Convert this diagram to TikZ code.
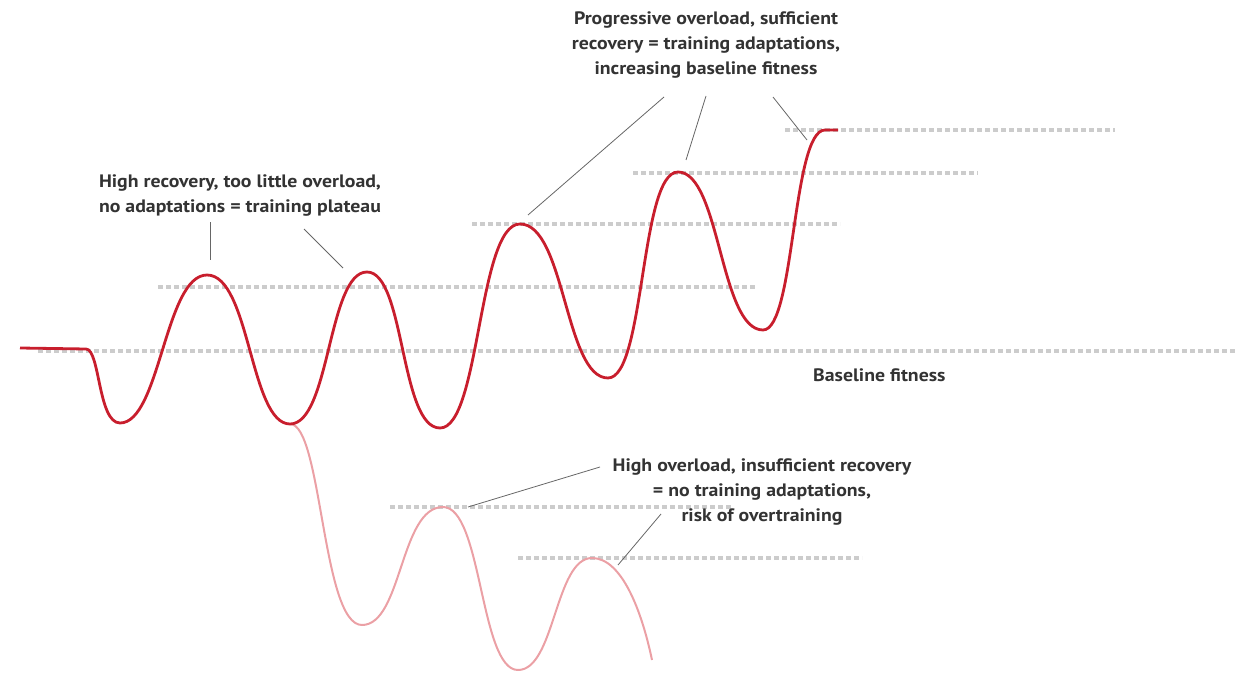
\documentclass[tikz,border=0pt]{standalone}
\usepackage{fontspec}
\setmainfont{PT Sans}[FakeStretch=1.1]
\begin{document}
\begin{tikzpicture}[x=1pt,y=-1pt,
  lvl/.style={draw=gray!40,line width=3.5pt,dash pattern=on 5pt off 3pt},
  maincurve/.style={draw={rgb,255:red,200;green,30;blue,45},line width=2.8pt,line join=round},
  pinkcurve/.style={draw={rgb,255:red,235;green,160;blue,165},line width=2pt},
  leader/.style={draw=gray!80!black,line width=0.8pt},
  lbl/.style={font=\bfseries\fontsize{18}{25}\selectfont,text=black!80,align=center,inner sep=0pt}]
\useasboundingbox (0,0) rectangle (1235,674);
% level lines
\coordinate (b0) at (38,351); \coordinate (b1) at (1235,351);
\coordinate (l1a) at (158,287); \coordinate (l1b) at (757,287);
\coordinate (l2a) at (472,224); \coordinate (l2b) at (840,224);
\coordinate (l3a) at (633,173); \coordinate (l3b) at (978,173);
\coordinate (l4a) at (785,130); \coordinate (l4b) at (1115,130);
\coordinate (l5a) at (390,507); \coordinate (l5b) at (732,507);
\coordinate (l6a) at (518,558); \coordinate (l6b) at (862,558);
\path[lvl] (b0) -- (b1);
\path[lvl] (l1a) -- (l1b);
\path[lvl] (l2a) -- (l2b);
\path[lvl] (l3a) -- (l3b);
\path[lvl] (l4a) -- (l4b);
\path[lvl] (l5a) -- (l5b);
\path[lvl] (l6a) -- (l6b);
% pink branch
\path[pinkcurve] (290,424) .. controls (322,424) and (322,625) .. (362,625)
  .. controls (402,625) and (400,507) .. (443,507)
  .. controls (482,507) and (480,670) .. (518,670)
  .. controls (555,670) and (555,558) .. (592,558)
  .. controls (622,558) and (642,612) .. (652,660);
% main curve
\path[maincurve] (20,348) -- (86,349) .. controls (100,349) and (98,423) .. (120,423)
  .. controls (160,423) and (165,275) .. (207,275)
  .. controls (250,275) and (250,424) .. (290,424)
  .. controls (330,424) and (328,272) .. (367,272)
  .. controls (405,272) and (400,428) .. (440,428)
  .. controls (480,428) and (478,224) .. (520,224)
  .. controls (565,224) and (565,378) .. (608,378)
  .. controls (645,378) and (640,172) .. (678,172)
  .. controls (720,172) and (720,330) .. (763,330)
  .. controls (795,330) and (792,130) .. (825,130) -- (838,130);
% labels
\node[lbl] (plateau) at (240,196) {High recovery, too little overload,\\no adaptations = training plateau};
\node[lbl] (prog) at (706,45) {Progressive overload, sufficient\\recovery = training adaptations,\\increasing baseline fitness};
\node[lbl,anchor=west] (base) at (813,375) {Baseline fitness};
\node[lbl] (over) at (762,492) {High overload, insufficient recovery\\= no training adaptations,\\risk of overtraining};
% leader ends
\coordinate (p1s) at (210,222); \coordinate (p1e) at (210,260);
\coordinate (p2s) at (304,229); \coordinate (p2e) at (343,268);
\coordinate (g1s) at (664,97); \coordinate (g1e) at (528,215);
\coordinate (g2s) at (706,96); \coordinate (g2e) at (686,160);
\coordinate (g3s) at (773,97); \coordinate (g3e) at (807,140);
\coordinate (o1s) at (600,467); \coordinate (o1e) at (468,507);
\coordinate (o2s) at (661,514); \coordinate (o2e) at (618,565);
\draw[leader] (p1s) -- (p1e);
\draw[leader] (p2s) -- (p2e);
\draw[leader] (g1s) -- (g1e);
\draw[leader] (g2s) -- (g2e);
\draw[leader] (g3s) -- (g3e);
\draw[leader] (o1s) -- (o1e);
\draw[leader] (o2s) -- (o2e);
\end{tikzpicture}
\end{document}
